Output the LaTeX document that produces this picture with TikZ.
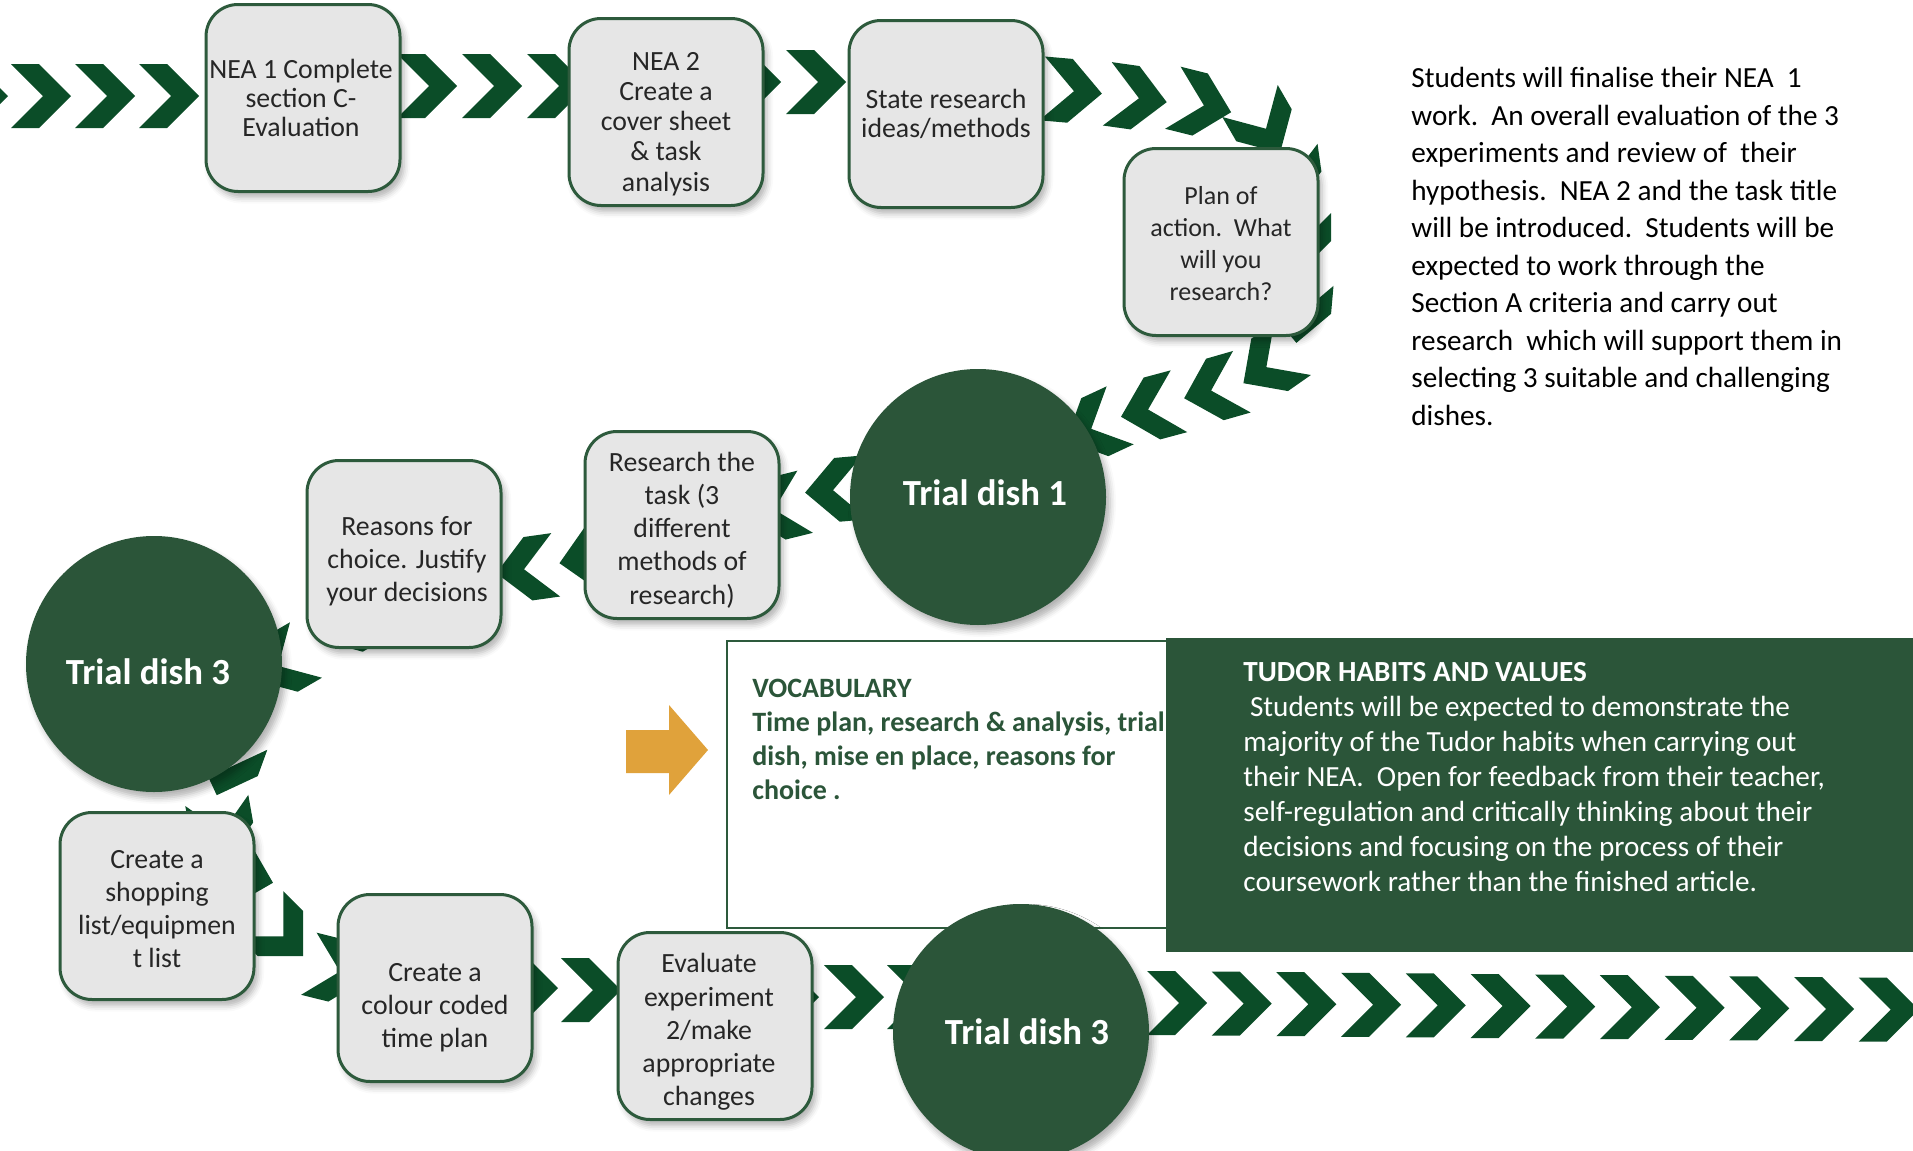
\documentclass[tikz,border=0pt]{standalone}
\usepackage{fontspec}
\setmainfont{Carlito}
\usetikzlibrary{shadows.blur}
\definecolor{chevgreen}{HTML}{0B4D28}
\definecolor{dishgreen}{HTML}{2B5539}
\definecolor{boxline}{HTML}{2D5A3C}
\definecolor{boxfill}{HTML}{E6E6E6}
\definecolor{inkgray}{HTML}{262626}
\definecolor{arroworange}{HTML}{E0A23B}
\tikzset{
        chev/.pic={\fill[chevgreen] (-15pt,16pt) -- (-1pt,16pt) -- (15pt,0pt)
                   -- (-1pt,-16pt) -- (-15pt,-16pt) -- (1pt,0pt) -- cycle;}, % one chevron of the trail
        soft/.style={blur shadow={shadow xshift=2pt, shadow yshift=-3pt,
                     shadow blur radius=3pt, shadow opacity=30}},
        task/.style={soft, draw=boxline, line width=1.5pt, fill=boxfill,
                     rounded corners=16pt, minimum width=97pt, minimum height=93.5pt},
        tasktext/.style={align=center, text=inkgray, inner sep=0pt,
                     font=\fontsize{13.9}{16.6}\selectfont},
        dish/.style={soft, circle, fill=dishgreen, minimum size=128pt, inner sep=0pt},
        dishtext/.style={text=white, inner sep=0pt, font=\bfseries\fontsize{18.4}{22}\selectfont},
        blurb/.style={anchor=north west, align=left, inner sep=0pt}
        }

\begin{document}
\begin{tikzpicture}[x=0.5pt, y=-0.5pt] % one unit = one pixel, y runs down
        \useasboundingbox (0,0) rectangle (1913,1151);

        % the chevron trail goes under everything else
        \foreach \px/\py/\ang in {-22/96/0, 41/96/0, 105/96/0, 169/96/0,
                427/86/0, 492/86/0, 557/86/0, 751/82/0, 816/82/0,
                1072/91/-5, 1137/98/-8, 1202/105/-14, 1265/127/-60,
                1290/178/-82, 1299/243/-90, 1299/313/-95, 1268/366/215,
                1213/390/196, 1150/409/195, 1093/428/205,
                835/490/185, 776/509/194, 589/558/190, 526/569/188,
                345/625/210, 280/665/210,
                227/767/250, 222/830/-80, 244/875/-15, 282/935/-45, 338/971/-14,
                528/988/0, 591/990/0, 789/997/0, 854/997/0, 917/997/0}
                \pic[rotate=\ang] at (\px,\py) {chev};
        \foreach \i in {0,...,11}
                \pic at ({1177+64.7*\i},{1003+0.6*\i}) {chev};

        % vocabulary and habits panels
        \draw[boxline, line width=1.2pt, fill=white] (727,641) rectangle (1169,928);
        \node[blurb, text=dishgreen, font=\bfseries\fontsize{14}{17}\selectfont] (voc) at (752,679)
                {VOCABULARY\\Time plan, research \& analysis, trial\\dish, mise en place, reasons for\\choice .};
        \fill[dishgreen] (1166,638) rectangle (1913,952);
        \node[blurb, text=white, font=\fontsize{14.6}{17.5}\selectfont] (habits) at (1243,662)
                {\textbf{TUDOR HABITS AND VALUES}\\
                 \ Students will be expected to demonstrate the\\
                 majority of the Tudor habits when carrying out\\
                 their NEA.\ \ Open for feedback from their teacher,\\
                 self-regulation and critically thinking about their\\
                 decisions and focusing on the process of their\\
                 coursework rather than the finished article.};
        \fill[arroworange] (626,730) -- (669,730) -- (669,705) -- (708,750)
                -- (669,795) -- (669,773) -- (626,773) -- cycle;

        % task boxes
        \node[task, label={[tasktext, xshift=-1pt, font=\fontsize{13.9}{14.7}\selectfont]center:{NEA 1 Complete\\section C-\\Evaluation}}] (nea1) at (303,98) {};
        \node[task, label={[tasktext, yshift=-6pt, font=\fontsize{13.9}{15.1}\selectfont]center:{NEA 2\\Create a\\cover sheet\\\& task\\analysis}}] (nea2) at (666,112) {};
        \node[task, label={[tasktext, font=\fontsize{13.9}{14.7}\selectfont]center:{State research\\ideas/methods}}] (ideas) at (946,114) {};
        \node[task, label={[tasktext, yshift=-1pt, font=\fontsize{13}{16}\selectfont]center:{Plan of\\action.\ \ What\\will you\\research?}}] (plan) at (1221,242) {};
        \node[task, label={[tasktext, yshift=-2.5pt]center:{Research the\\task (3\\different\\methods of\\research)}}] (research) at (682,525) {};
        \node[task, label={[tasktext, xshift=1.5pt, yshift=-3.5pt]center:{Reasons for\\choice. Justify\\your decisions}}] (reasons) at (404,554) {};
        \node[task, label={[tasktext, yshift=-1.5pt]center:{Create a\\shopping\\list/equipmen\\t list}}] (shopping) at (157,906) {};
        \node[task, label={[tasktext, yshift=-10pt]center:{Create a\\colour coded\\time plan}}] (timeplan) at (435,988) {};
        \node[task, label={[tasktext, xshift=-3pt, yshift=-3pt]center:{Evaluate\\experiment\\2/make\\appropriate\\changes}}] (evaluate) at (715,1026) {};

        % trial dishes
        \node[dish, label={[dishtext, xshift=3.5pt, yshift=2pt]center:Trial dish 1}] (dish1) at (978,497) {};
        \node[dish, label={[dishtext, xshift=-3pt, yshift=-4pt]center:Trial dish 3}] (dish3a) at (154,664) {};
        \node[dish, label={[dishtext, xshift=3pt]center:Trial dish 3}] (dish3b) at (1021,1032) {};

        % overview text
        \node[blurb, text=black, font=\fontsize{14.6}{18.75}\selectfont] (intro) at (1411,67)
                {Students will finalise their NEA\ \ 1\\
                 work.\ \ An overall evaluation of the 3\\
                 experiments and review of\ \ their\\
                 hypothesis.\ \ NEA 2 and the task title\\
                 will be introduced.\ \ Students will be\\
                 expected to work through the\\
                 Section A criteria and carry out\\
                 research\ \ which will support them in\\
                 selecting 3 suitable and challenging\\
                 dishes.};
\end{tikzpicture}
\end{document}
